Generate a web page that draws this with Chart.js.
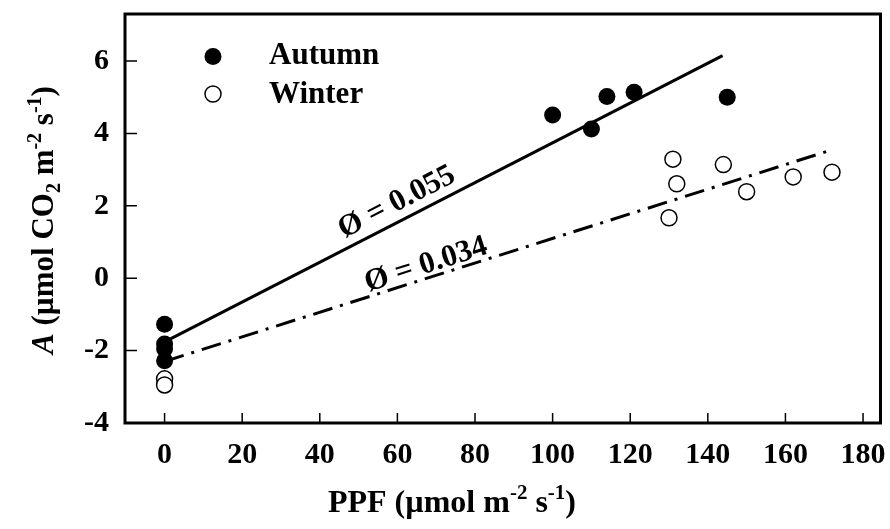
<!DOCTYPE html>
<html lang="en">
<head>
    <meta charset="UTF-8">
    <title>Light response - A vs PPF</title>
    <script src="https://cdn.jsdelivr.net/npm/chart.js"></script>
    <style>
        body {
            margin: 0;
            background: #fff;
        }
        .chart-box {
            width: 890px;
            height: 529px;
            position: relative;
        }
    </style>
</head>
<body>
    <div class="chart-box">
        <canvas id="ppfChart"></canvas>
    </div>

    <script>
        // PPF (µmol m-2 s-1) and net assimilation A (µmol CO2 m-2 s-1)
        const autumnPPF = [0, 0, 0, 0, 100, 110, 114, 121, 145];
        const autumnA = [-1.27, -1.82, -1.95, -2.28, 4.51, 4.12, 5.02, 5.14, 5.0];
        const winterPPF = [0, 0, 130, 131, 132, 144, 150, 162, 172];
        const winterA = [-2.78, -2.95, 1.67, 3.29, 2.61, 3.14, 2.39, 2.80, 2.93];

        // linear fits, slope = quantum efficiency
        const autumnSlope = 0.055, autumnIntercept = -1.76, autumnRange = [0, 143.8];
        const winterSlope = 0.034, winterIntercept = -2.3, winterRange = [0, 172];

        const xTicks = [0, 20, 40, 60, 80, 100, 120, 140, 160, 180];
        const yTicks = [-4, -2, 0, 2, 4, 6];

        const SERIF = '"Liberation Serif", "Times New Roman", serif';
        const tickFont = { family: SERIF, size: 30, weight: 'bold' };

        function points(xs, ys) {
            return xs.map((x, i) => ({ x: x, y: ys[i] }));
        }
        function fitLine(slope, intercept, range) {
            return range.map(x => ({ x: x, y: intercept + slope * x }));
        }

        // text made of pieces: [string, kind] where kind is n / i / sup / sub
        function richText(ctx, parts, x, y, size) {
            const small = Math.round(size * 0.66);
            const fontOf = k => {
                if (k === 'i') return 'italic bold ' + size + 'px ' + SERIF;
                if (k === 'sup' || k === 'sub') return 'bold ' + small + 'px ' + SERIF;
                return 'bold ' + size + 'px ' + SERIF;
            };
            let total = 0;
            parts.forEach(p => { ctx.font = fontOf(p[1]); total += ctx.measureText(p[0]).width; });
            let cx = x - total / 2;
            ctx.textAlign = 'left';
            ctx.textBaseline = 'alphabetic';
            parts.forEach(p => {
                ctx.font = fontOf(p[1]);
                let dy = 0;
                if (p[1] === 'sup') dy = -size * 0.4;
                if (p[1] === 'sub') dy = size * 0.23;
                ctx.fillText(p[0], cx, y + dy);
                cx += ctx.measureText(p[0]).width;
            });
        }

        // rotated label sitting along a fit line
        function lineLabel(ctx, xs, ys, text, slope, intercept, atX, offset) {
            const px = xs.getPixelForValue(atX);
            const py = ys.getPixelForValue(intercept + slope * atX);
            const dx = xs.getPixelForValue(atX + 10) - px;
            const dy = ys.getPixelForValue(intercept + slope * (atX + 10)) - py;
            ctx.save();
            ctx.translate(px, py);
            ctx.rotate(Math.atan2(dy, dx));
            ctx.font = 'bold 31px ' + SERIF;
            ctx.textAlign = 'center';
            ctx.textBaseline = 'middle';
            ctx.fillText(text, 0, -offset);
            ctx.restore();
        }

        const decor = {
            id: 'decor',
            afterDraw(chart) {
                const ctx = chart.ctx;
                const area = chart.chartArea;
                const xs = chart.scales.x, ys = chart.scales.y;
                ctx.save();
                ctx.fillStyle = '#000';
                ctx.strokeStyle = '#000';

                // inward tick marks
                ctx.lineWidth = 1.5;
                ctx.beginPath();
                xTicks.forEach(v => {
                    const px = xs.getPixelForValue(v);
                    ctx.moveTo(px, area.bottom);
                    ctx.lineTo(px, area.bottom - 10);
                });
                yTicks.forEach(v => {
                    const py = ys.getPixelForValue(v);
                    ctx.moveTo(area.left, py);
                    ctx.lineTo(area.left + 12, py);
                });
                ctx.stroke();

                // frame
                ctx.lineWidth = 3;
                ctx.strokeRect(area.left, area.top, area.right - area.left, area.bottom - area.top);

                // legend
                ctx.beginPath();
                ctx.arc(213, 56.5, 8.5, 0, Math.PI * 2);
                ctx.fill();
                ctx.beginPath();
                ctx.arc(213, 94, 8, 0, Math.PI * 2);
                ctx.fillStyle = '#fff';
                ctx.fill();
                ctx.lineWidth = 1.5;
                ctx.stroke();
                ctx.fillStyle = '#000';
                ctx.font = 'bold 31px ' + SERIF;
                ctx.textAlign = 'left';
                ctx.textBaseline = 'middle';
                ctx.fillText('Autumn', 269, 56);
                ctx.fillText('Winter', 269, 95);

                // slope labels
                lineLabel(ctx, xs, ys, 'Ø = 0.055', autumnSlope, autumnIntercept, 62, 18);
                lineLabel(ctx, xs, ys, 'Ø = 0.034', winterSlope, winterIntercept, 68.4, 13);

                // axis titles
                richText(ctx, [['PPF (µmol m', 'n'], ['-2', 'sup'], [' s', 'n'], ['-1', 'sup'], [')', 'n']], 452, 512, 32);
                ctx.save();
                ctx.translate(53, 220);
                ctx.rotate(-Math.PI / 2);
                richText(ctx, [['A', 'i'], [' (µmol CO', 'n'], ['2', 'sub'], [' m', 'n'], ['-2', 'sup'],
                               [' s', 'n'], ['-1', 'sup'], [')', 'n']], 0, 0, 31);
                ctx.restore();
                ctx.restore();
            }
        };

        const ctx = document.getElementById('ppfChart').getContext('2d');
        new Chart(ctx, {
            data: {
                datasets: [
                    {
                        type: 'line',
                        label: 'Autumn fit',
                        data: fitLine(autumnSlope, autumnIntercept, autumnRange),
                        borderColor: '#000',
                        borderWidth: 3,
                        pointRadius: 0,
                        order: 2
                    },
                    {
                        type: 'line',
                        label: 'Winter fit',
                        data: fitLine(winterSlope, winterIntercept, winterRange),
                        borderColor: '#000',
                        borderWidth: 3,
                        borderDash: [20, 8, 3, 8],
                        pointRadius: 0,
                        order: 2
                    },
                    {
                        type: 'scatter',
                        label: 'Autumn',
                        data: points(autumnPPF, autumnA),
                        backgroundColor: '#000',
                        borderColor: '#000',
                        borderWidth: 0,
                        pointRadius: 8.5,
                        order: 1
                    },
                    {
                        type: 'scatter',
                        label: 'Winter',
                        data: points(winterPPF, winterA),
                        backgroundColor: '#fff',
                        borderColor: '#000',
                        borderWidth: 1.5,
                        pointRadius: 8,
                        order: 1
                    }
                ]
            },
            options: {
                responsive: true,
                maintainAspectRatio: false,
                animation: false,
                layout: { padding: { top: 14, right: 8, left: 0, bottom: 0 } },
                plugins: {
                    legend: { display: false },
                    tooltip: { enabled: false }
                },
                scales: {
                    x: {
                        type: 'linear',
                        min: -10.2,
                        max: 184.5,
                        grid: { display: false, drawTicks: false },
                        border: { display: false },
                        ticks: { font: tickFont, color: '#000', padding: 14, maxRotation: 0 },
                        afterBuildTicks: s => { s.ticks = xTicks.map(v => ({ value: v })); },
                        afterFit: s => {
                            s.height = 106;
                            s.paddingLeft = 0;
                            s.paddingRight = 0;
                        }
                    },
                    y: {
                        type: 'linear',
                        min: -4,
                        max: 7.3,
                        grid: { display: false, drawTicks: false },
                        border: { display: false },
                        ticks: { font: tickFont, color: '#000', padding: 16 },
                        afterBuildTicks: s => { s.ticks = yTicks.map(v => ({ value: v })); },
                        afterFit: s => {
                            s.width = 125;
                            s.paddingTop = 0;
                            s.paddingBottom = 0;
                        }
                    }
                }
            },
            plugins: [decor]
        });
    </script>
</body>
</html>
